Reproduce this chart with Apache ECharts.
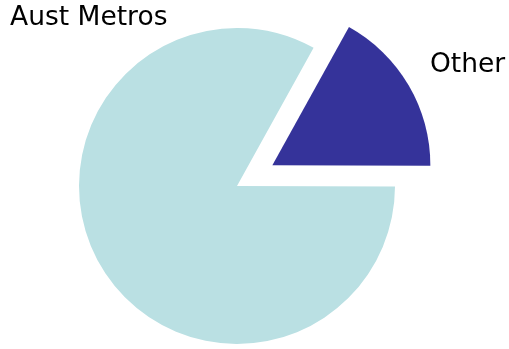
<!DOCTYPE html>
<html><head><meta charset="utf-8">
<script src="https://cdn.jsdelivr.net/npm/echarts@6/dist/echarts.min.js"></script>
<style>html,body{margin:0;padding:0;background:#fff}#c{width:509px;height:349px}</style>
</head><body><div id="c"></div>
<script>
const categories = ['Other', 'Aust Metros'];
const values = [17, 83];
const colors = ['#35339A', '#BAE0E3'];
const labelPos = [{x: 430, y: 67}, {x: 10, y: 20}];

const chart = echarts.init(document.getElementById('c'), null, {renderer: 'canvas'});
chart.setOption({
  animation: false,
  graphic: categories.map((c, i) => ({
    type: 'text', left: labelPos[i].x, top: labelPos[i].y - 15,
    style: {text: c, fill: '#000', font: '26.5px "DejaVu Sans"'}
  })),
  series: [{
    type: 'pie',
    center: [237, 186],
    radius: [0, 158],
    startAngle: 61,
    clockwise: true,
    selectedMode: 'single',
    selectedOffset: 41,
    label: {show: false},
    labelLine: {show: false},
    emphasis: {disabled: true},
    data: categories.map((c, i) => ({name: c, value: values[i], selected: i === 0, itemStyle: {color: colors[i]}}))
  }]
});
</script></body></html>
